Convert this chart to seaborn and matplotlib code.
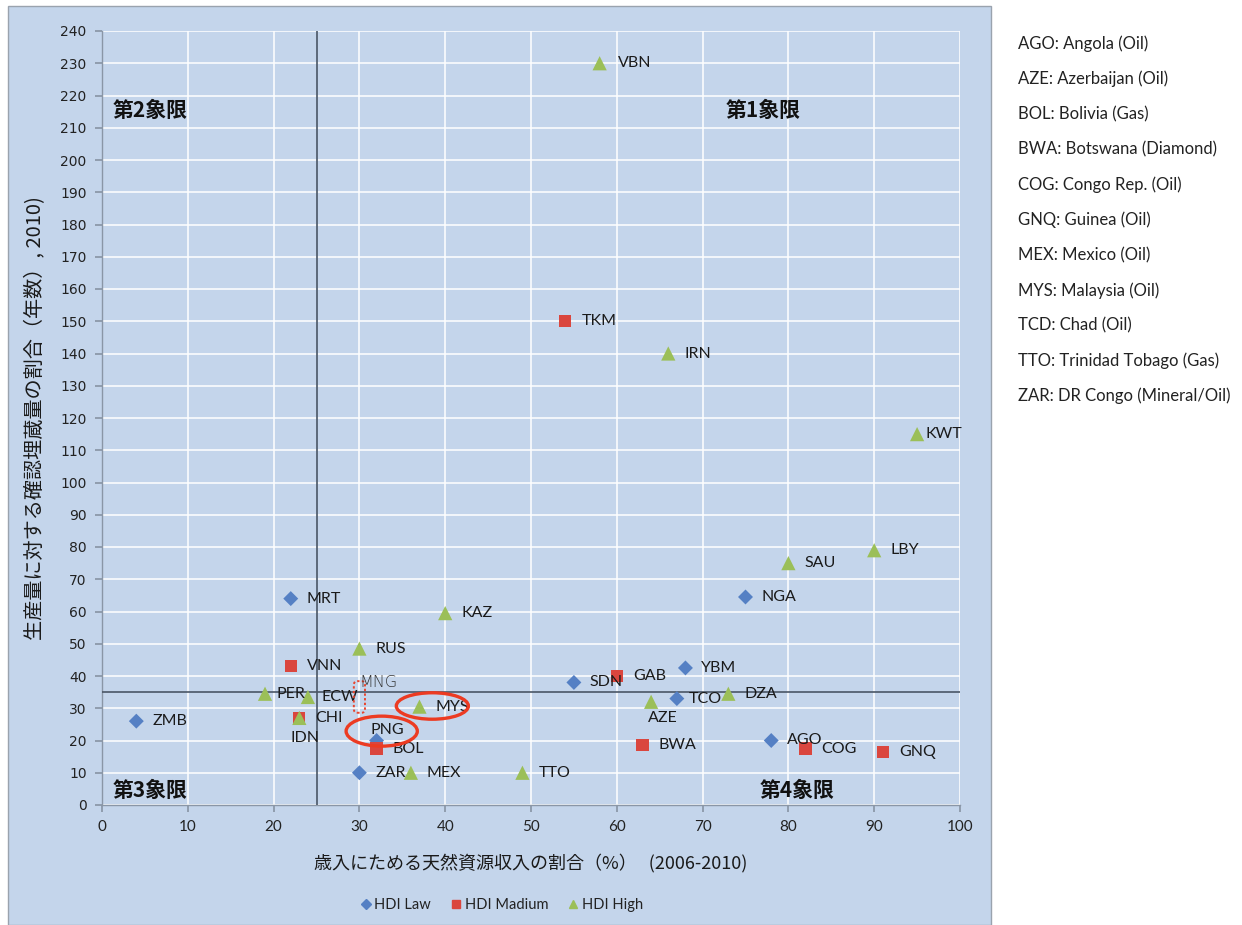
import matplotlib
matplotlib.use("Agg")
import matplotlib.pyplot as plt
import seaborn as sns
import pandas as pd
from matplotlib.patches import Ellipse, FancyBboxPatch, Rectangle
from matplotlib.lines import Line2D

# ---- data -------------------------------------------------------------
codes = ["ZMB", "MRT", "PNG", "ZAR", "SDN", "YBM", "TCO", "NGA", "AGO",
         "TKM", "VNN", "IDN", "BOL", "GAB", "BWA", "COG", "GNQ",
         "VBN", "IRN", "KWT", "LBY", "SAU", "KAZ", "RUS", "PER", "ECW",
         "CHI", "MYS", "MEX", "TTO", "AZE", "DZA"]
revenue_share = [4, 22, 32, 30, 55, 68, 67, 75, 78,
                 54, 22, 23, 32, 60, 63, 82, 91,
                 58, 66, 95, 90, 80, 40, 30, 19, 24,
                 23, 37, 36, 49, 64, 73]
reserve_years = [26, 64, 20, 10, 38, 42.5, 33, 64.5, 20,
                 150, 43, 27, 17.5, 40, 18.5, 17.5, 16.5,
                 230, 140, 115, 79, 75, 59.5, 48.5, 34.5, 33.5,
                 27, 30.5, 10, 10, 32, 34.5]
hdi_level = ["Low"] * 9 + ["Medium"] * 8 + ["High"] * 15

legend_names = {"Low": "HDI Law", "Medium": "HDI Madium", "High": "HDI High"}
quadrant_x = 25
quadrant_y = 35
mng_point = (30, 33.5)

country_notes = ["AGO: Angola (Oil)", "AZE: Azerbaijan (Oil)", "BOL: Bolivia (Gas)",
                 "BWA: Botswana (Diamond)", "COG: Congo Rep. (Oil)", "GNQ: Guinea (Oil)",
                 "MEX: Mexico (Oil)", "MYS: Malaysia (Oil)", "TCD: Chad (Oil)",
                 "TTO: Trinidad Tobago (Gas)", "ZAR: DR Congo (Mineral/Oil)"]

df = pd.DataFrame({"code": codes, "x": revenue_share, "y": reserve_years, "hdi": hdi_level})

# ---- style ------------------------------------------------------------
sns.set_theme(style="white")
plt.rcParams["font.family"] = ["Lato", "Noto Sans CJK JP", "DejaVu Sans"]
cjk = ["Noto Sans CJK JP", "DejaVu Sans"]

panel_bg = "#c4d5eb"
palette = {"Low": "#5580c4", "Medium": "#da463e", "High": "#9bbf58"}
markers = {"Low": "D", "Medium": "s", "High": "^"}
marker_area = {"Low": 58, "Medium": 78, "High": 105}

fig = plt.figure(figsize=(12.42, 9.25), dpi=100)
fig.patch.set_facecolor("white")
panel = Rectangle((8 / 1242, 0), (991 - 8) / 1242, (925 - 6) / 925,
                  transform=fig.transFigure, facecolor=panel_bg,
                  edgecolor="#9aa3ae", linewidth=1.0, zorder=-10)
fig.add_artist(panel)

ax = fig.add_axes([102 / 1242, (925 - 805) / 925, (960 - 102) / 1242, (805 - 31) / 925])
ax.set_facecolor(panel_bg)

sns.scatterplot(data=df, x="x", y="y", hue="hdi", style="hdi", size="hdi",
                palette=palette, markers=markers, sizes=marker_area, linewidth=0,
                legend=False, ax=ax, zorder=4)

ax.set_xlim(0, 100)
ax.set_ylim(0, 240)
ax.set_xticks(range(0, 101, 10))
ax.set_yticks(range(0, 241, 10))
ax.grid(True, color="white", linewidth=1.1)
ax.set_axisbelow(True)
for side in ["top", "right"]:
    ax.spines[side].set_visible(False)
for side in ["left", "bottom"]:
    ax.spines[side].set_color("#8a96a6")
    ax.spines[side].set_linewidth(1.0)
ax.tick_params(axis="y", left=True, length=5, color="#8a96a6", pad=6,
               labelsize=10, labelcolor="#222222")
ax.tick_params(axis="x", bottom=True, length=5, color="#8a96a6", pad=6,
               labelsize=11, labelcolor="#222222")
for lab in ax.get_yticklabels():
    lab.set_fontfamily("DejaVu Sans")

# quadrant divider lines
ax.axvline(quadrant_x, color="#4a5666", linewidth=1.2, zorder=3)
ax.axhline(quadrant_y, color="#4a5666", linewidth=1.2, zorder=3)

# point labels
offsets = {"PER": (11, 0, "left"), "ECW": (14, 0, "left"), "TCO": (12, 0, "left"),
           "KWT": (8, 0, "left"), "IDN": (6, -20, "center"), "AZE": (12, -16, "center"),
           "PNG": (-6, 10, "left"), "VBN": (18, 0, "left")}
for c, xv, yv in zip(codes, revenue_share, reserve_years):
    dx, dy, ha = offsets.get(c, (16, 0, "left"))
    ax.annotate(c, (xv, yv), xytext=(dx, dy), textcoords="offset pixels",
                ha=ha, va="center", fontsize=11.5, color="#1a1a1a", zorder=5)

# MNG marker box (no symbol) and its label
mx, my = mng_point
ax.add_patch(FancyBboxPatch((mx - 0.55, my - 4.6), 1.1, 9.2,
                            boxstyle="round,pad=0.1,rounding_size=0.4",
                            fill=False, edgecolor="#e8452e", linewidth=1.4,
                            linestyle=(0, (1.2, 1.2)), zorder=5, mutation_aspect=3))
ax.annotate("MNG", (mx, my), xytext=(0, 14), textcoords="offset pixels",
            ha="left", va="center", fontsize=11.5, color="#333333",
            family=["DejaVu Sans"], fontweight="light", zorder=5)

# highlight rings
pos = dict(zip(codes, zip(revenue_share, reserve_years)))
for code, (ddx, ddy, w, h) in {"MYS": (1.5, 0.2, 8.4, 8.2), "PNG": (0.6, 2.9, 8.3, 9.3)}.items():
    px, py = pos[code]
    ax.add_patch(Ellipse((px + ddx, py + ddy), w, h, fill=False,
                         edgecolor="#ec3b22", linewidth=2.4, zorder=6))

# quadrant names
qkw = dict(fontsize=15, fontweight="bold", color="#111111", family=cjk, va="center", zorder=5)
ax.text(1.2, 215.5, "第2象限", ha="left", **qkw)
ax.text(77, 215.5, "第1象限", ha="center", **qkw)
ax.text(1.2, 4.6, "第3象限", ha="left", **qkw)
ax.text(81, 4.6, "第4象限", ha="center", **qkw)

# axis titles
ax.set_xlabel("歳入にためる天然資源収入の割合（%）   (2006-2010)", fontsize=13,
              family=cjk, color="#1a1a1a", labelpad=14)
ax.set_ylabel("生産量に対する確認埋蔵量の割合（年数）, 2010)", fontsize=14.5,
              family=cjk, color="#1a1a1a", labelpad=10)

# series legend along the bottom
handles = [Line2D([], [], marker=markers[k], color=palette[k], linestyle="none",
                  markersize=6 if k != "Low" else 5.5, label=legend_names[k])
           for k in ["Low", "Medium", "High"]]
fig.legend(handles=handles, loc="center", bbox_to_anchor=(502 / 1242, 1 - 905 / 925),
           ncol=3, frameon=False, fontsize=10.5, handlelength=0.6, handletextpad=0.3,
           columnspacing=1.4, labelcolor="#222222")

# country key on the right
for i, note in enumerate(country_notes):
    fig.text(1018 / 1242, 1 - (44 + i * 35.2) / 925, note, ha="left", va="center",
             fontsize=12, color="#222222")

fig.savefig("out.png", dpi=100, facecolor="white")
